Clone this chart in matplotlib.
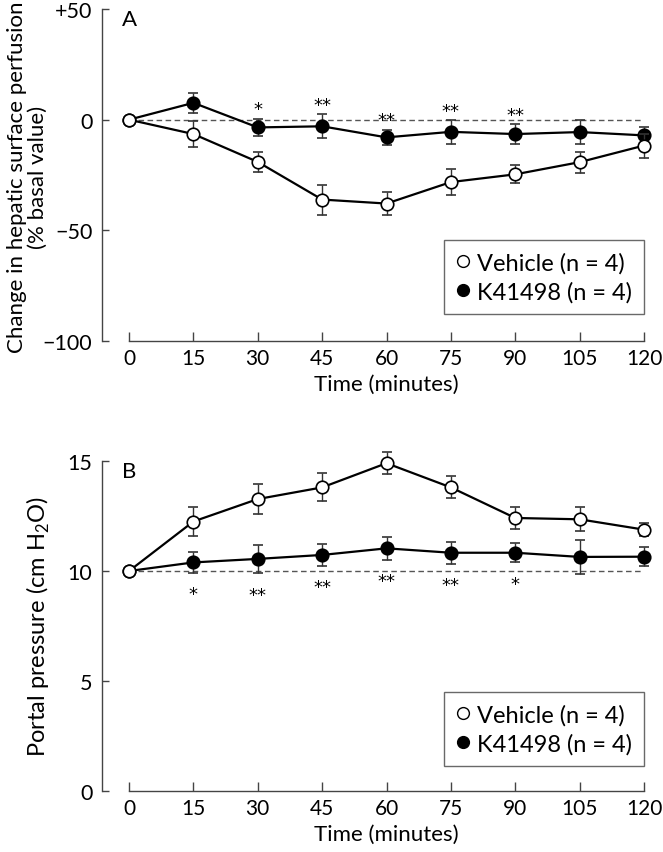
import numpy as np
import matplotlib
matplotlib.use("Agg")
import matplotlib.pyplot as plt
from matplotlib.lines import Line2D

# ======================================================
# Data
# ======================================================
time_min = [0, 15, 30, 45, 60, 75, 90, 105, 120]

# Panel A: change in hepatic surface perfusion (% basal value)
vehicle_a = [0, -6.5, -19.1, -36.1, -37.9, -28.2, -24.7, -19.2, -11.7]
vehicle_a_err = [0, 5.7, 4.7, 6.8, 5.3, 6.0, 4.0, 4.7, 5.4]
k41498_a = [0, 7.6, -3.5, -3.0, -8.0, -5.5, -6.5, -5.6, -7.1]
k41498_a_err = [0, 4.5, 4.0, 5.5, 3.5, 5.3, 4.5, 5.3, 4.0]
sig_a = ['', '', '*', '**', '**', '**', '**', '', '']

# Panel B: portal pressure (cm H2O)
vehicle_b = [10, 12.25, 13.27, 13.8, 14.9, 13.8, 12.41, 12.35, 11.88]
vehicle_b_err = [0, 0.68, 0.7, 0.64, 0.5, 0.5, 0.5, 0.55, 0.3]
k41498_b = [10, 10.39, 10.55, 10.73, 11.03, 10.83, 10.83, 10.64, 10.65]
k41498_b_err = [0, 0.48, 0.65, 0.5, 0.52, 0.5, 0.43, 0.76, 0.43]
sig_b = ['', '*', '**', '**', '**', '**', '*', '', '']

legend_labels = ['Vehicle (n = 4)', 'K41498 (n = 4)']

# ======================================================
# Style
# ======================================================
plt.rcParams['font.family'] = ['Lato', 'DejaVu Sans']
plt.rcParams['mathtext.fontset'] = 'custom'
plt.rcParams['mathtext.rm'] = 'Lato'
FS = 15
AXC = '#444444'
W, H = 663, 853

fig = plt.figure(figsize=(W / 100, H / 100), dpi=100)


def px_axes(left, top, right, bottom):
    return fig.add_axes([left / W, 1 - bottom / H, (right - left) / W, (bottom - top) / H])


def style_axes(ax, ylim, yticks, yticklabels, base):
    ax.set_xlim(-6.3, 120)
    ax.set_ylim(*ylim)
    for s in ['top', 'right']:
        ax.spines[s].set_visible(False)
    ax.spines['left'].set_bounds(*ylim)
    ax.spines['bottom'].set_bounds(0, 120)
    for s in ['left', 'bottom']:
        ax.spines[s].set_color(AXC)
        ax.spines[s].set_linewidth(1.0)
    ax.set_xticks(time_min)
    ax.set_xticklabels([str(t) for t in time_min])
    ax.set_yticks(yticks)
    ax.set_yticklabels(yticklabels)
    ax.tick_params(axis='x', direction='in', length=6.5, width=1.0, color=AXC,
                   labelsize=FS, pad=5)
    ax.tick_params(axis='y', direction='in', length=5, width=1.0, color=AXC,
                   labelsize=15.5, pad=7)
    ax.set_xlabel('Time (minutes)', fontsize=16, labelpad=4)
    # centre the x label under the 0-120 spine
    ax.xaxis.label.set_x((60 + 6.3) / 126.3)
    ax.plot([0, 120], [base, base], ls=(0, (4, 2.5)), color='#555555', lw=1.0, zorder=1)


def draw_series(ax, y, yerr, filled):
    ax.errorbar(time_min, y, yerr=yerr, fmt='-o', color='black', lw=1.6,
                ms=9, mfc='black' if filled else 'white', mec='black', mew=1.2,
                ecolor='#333333', elinewidth=1.0, capsize=3.3, capthick=1.0,
                clip_on=False, zorder=3 if filled else 4)


def draw_stars(ax, y, yerr, labels, above):
    for t, v, e, lab in zip(time_min, y, yerr, labels):
        if not lab:
            continue
        if above:
            ax.annotate(lab, (t, v + e), xytext=(0, 3), textcoords='offset points',
                        ha='center', va='baseline', fontsize=13, family='DejaVu Sans')
        else:
            ax.annotate(lab, (t, v - e), xytext=(0, -19), textcoords='offset points',
                        ha='center', va='baseline', fontsize=13, family='DejaVu Sans')


def draw_legend(ax, anchor_y):
    handles = [Line2D([], [], ls='none', marker='o', ms=8.5, mfc='white', mec='black', mew=1.0),
               Line2D([], [], ls='none', marker='o', ms=8.5, mfc='black', mec='black', mew=1.0)]
    leg = ax.legend(handles, legend_labels, loc='lower right', bbox_to_anchor=(1.0, anchor_y),
                    borderaxespad=0, fontsize=17, frameon=True, fancybox=False,
                    handlelength=0.6, handletextpad=0.3, labelspacing=0.3, borderpad=0.5)
    leg.get_frame().set_edgecolor(AXC)
    leg.get_frame().set_linewidth(1.0)


# ======================================================
# Panel A
# ======================================================
axA = px_axes(102, 10, 644, 342)
style_axes(axA, (-100, 50), [-100, -50, 0, 50], ['\u2212100', '\u221250', '0', '+50'], 0)
draw_series(axA, vehicle_a, vehicle_a_err, False)
draw_series(axA, k41498_a, k41498_a_err, True)
draw_stars(axA, k41498_a, k41498_a_err, sig_a, True)
draw_legend(axA, 27 / 332)
axA.text(0.05, 1.0, 'A', transform=axA.transAxes, fontsize=16, ha='center', va='top')
fig.text(27 / W, 1 - 177 / H, 'Change in hepatic surface perfusion\n(% basal value)',
         rotation=90, ha='center', va='center', multialignment='center', fontsize=16,
         linespacing=1.05)

# ======================================================
# Panel B
# ======================================================
axB = px_axes(102, 462, 644, 792)
style_axes(axB, (0, 15), [0, 5, 10, 15], ['0', '5', '10', '15'], 10)
draw_series(axB, vehicle_b, vehicle_b_err, False)
draw_series(axB, k41498_b, k41498_b_err, True)
draw_stars(axB, k41498_b, k41498_b_err, sig_b, False)
draw_legend(axB, 25 / 330)
axB.text(0.05, 1.0, 'B', transform=axB.transAxes, fontsize=16, ha='center', va='top')
fig.text(38 / W, 1 - 627 / H, 'Portal pressure (cm H$_2$O)',
         rotation=90, ha='center', va='center', fontsize=17)

fig.savefig('out.png', dpi=100)
